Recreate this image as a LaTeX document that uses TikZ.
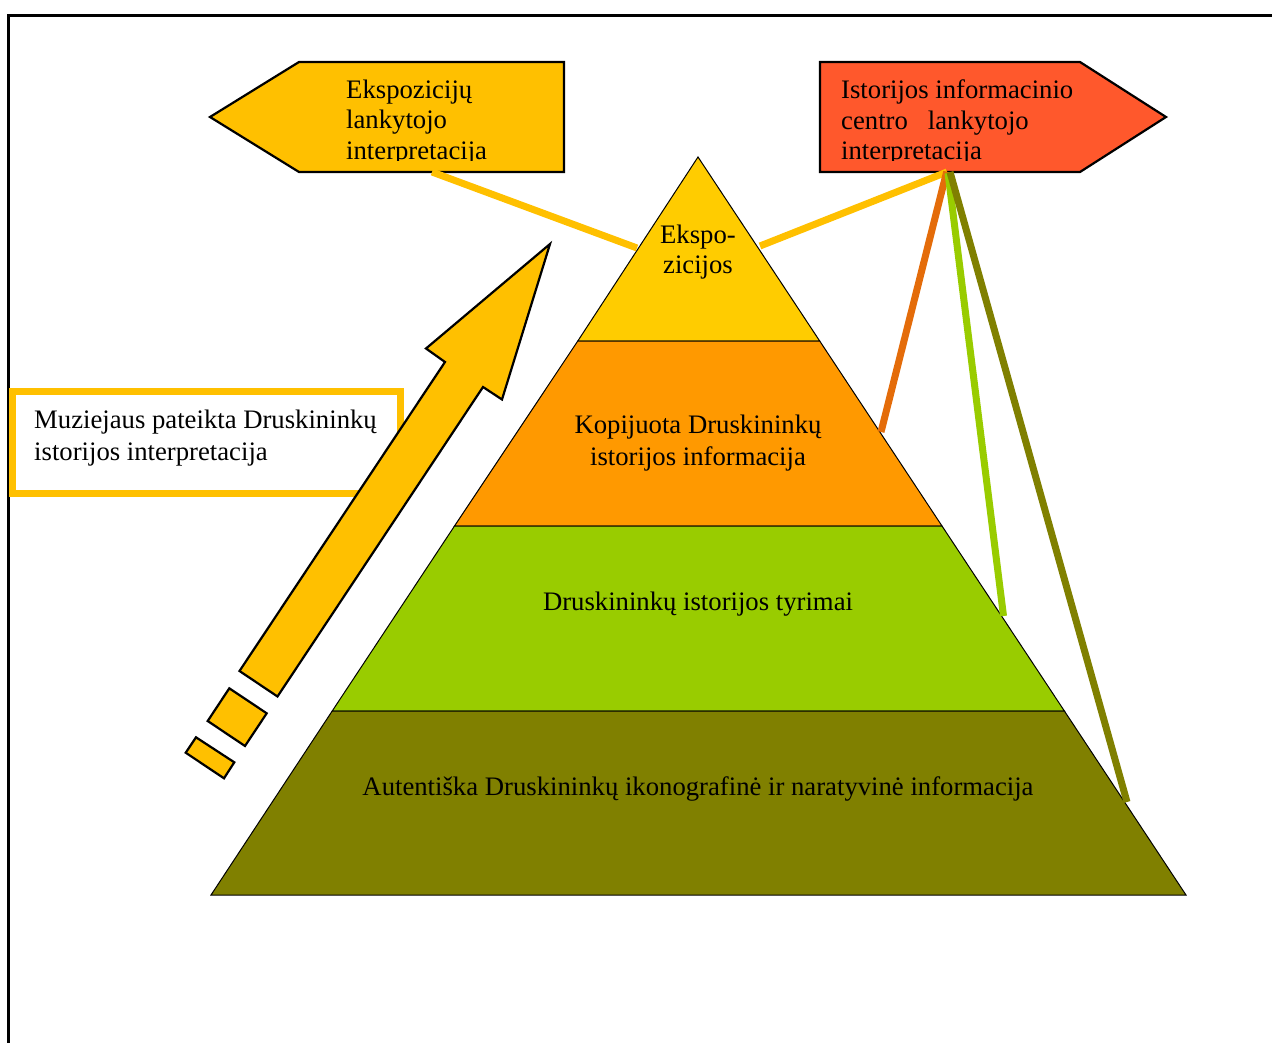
\documentclass[tikz,border=0pt]{standalone}
\usepackage{fontspec}
\setmainfont{Liberation Serif}
\definecolor{yel}{RGB}{255,192,0}
\definecolor{gold}{RGB}{255,204,0}
\definecolor{org}{RGB}{255,153,0}
\definecolor{lgreen}{RGB}{153,204,0}
\definecolor{oliv}{RGB}{128,128,0}
\definecolor{redorg}{RGB}{255,88,44}
\definecolor{darkorg}{RGB}{228,108,10}
\begin{document}
\begin{tikzpicture}[x=1pt,y=-1pt,
  txt/.style={inner sep=0pt, font=\fontsize{26.7}{30.5}\selectfont},
  wide/.style={font=\fontsize{26.7}{32}\selectfont},
  layer/.style={draw=black, line width=1pt, line join=miter},
  conn/.style={line width=7pt},
  outl/.style={draw=black, line width=2.2pt, line join=miter, fill=yel}]
\useasboundingbox (0,0) rectangle (1272,1043);
% frame
\draw[line width=3.5pt] (8.7,1050) -- (8.7,15.3) -- (1280,15.3);
% pyramid layers
\path[layer, fill=gold] (698,157) -- (819.7,341) -- (577.8,341) -- cycle;
\path[layer, fill=org] (577.8,341) -- (819.7,341) -- (942,526) -- (454.5,526) -- cycle;
\path[layer, fill=lgreen] (454.5,526) -- (942,526) -- (1064.4,711) -- (332.2,711) -- cycle;
\path[layer, fill=oliv] (332.2,711) -- (1064.4,711) -- (1186,895) -- (211,895) -- cycle;
% left and right signs
\path[outl] (210,117) -- (299,62) -- (564,62) -- (564,172) -- (299,172) -- cycle;
\path[outl, fill=redorg] (820,62) -- (1080,62) -- (1166,117) -- (1080,172) -- (820,172) -- cycle;
% connector end points
\coordinate (lsign) at (432,172);
\coordinate (topL) at (637,248);
\coordinate (rsignA) at (947,172);
\coordinate (rsignB) at (946.7,171.7);
\coordinate (rsignC) at (948,173);
\coordinate (rsignD) at (950,172);
\coordinate (topR) at (760,246);
\coordinate (lay2) at (881,432);
\coordinate (lay3) at (1003.5,616);
\coordinate (lay4) at (1127,802);
\draw[conn, yel] (lsign) -- (topL);
\draw[conn, yel] (rsignA) -- (topR);
\draw[conn, darkorg] (rsignB) -- (lay2);
\draw[conn, lgreen] (rsignC) -- (lay3);
\draw[conn, oliv] (rsignD) -- (lay4);
% museum box
\draw[yel, line width=7pt, fill=white] (12,391) rectangle (400.5,493);
\node[txt, wide, anchor=north west, align=left] (muz) at (34,410) {Muziejaus pateikta Druskininkų\\istorijos interpretacija};
% big arrow
\path[outl] (550,244) -- (502,399.5) -- (483,387) -- (277.5,696.5) -- (239.5,671) -- (445,362) -- (426,348.5) -- cycle;
\path[outl] (229.3,688.3) -- (266.7,713.3) -- (245,746) -- (207.7,721) -- cycle;
\path[outl] (196,737.3) -- (234.3,762.3) -- (224,778.3) -- (185.7,752.7) -- cycle;
% sign texts (clipped at the bottom as in the original)
\begin{scope}
\clip (200,55) rectangle (1180,160.5);
\node[txt, anchor=north west, align=left] (lsigntxt) at (346,79.6) {Ekspozicijų\\lankytojo\\interpretacija};
\node[txt, anchor=north west, align=left] (rsigntxt) at (841,79.6) {Istorijos informacinio\\centro~~~lankytojo\\interpretacija};
\end{scope}
% pyramid texts
\node[txt, anchor=north, align=center] (t1) at (698,224.6) {Ekspo-\\zicijos};
\node[txt, wide, anchor=north, align=center] (t2) at (698,414.6) {Kopijuota Druskininkų\\istorijos informacija};
\node[txt, anchor=base] (t3) at (698,610) {Druskininkų istorijos tyrimai};
\node[txt, anchor=base] (t4) at (698,795) {Autentiška Druskininkų ikonografinė ir naratyvinė informacija};
\end{tikzpicture}
\end{document}
